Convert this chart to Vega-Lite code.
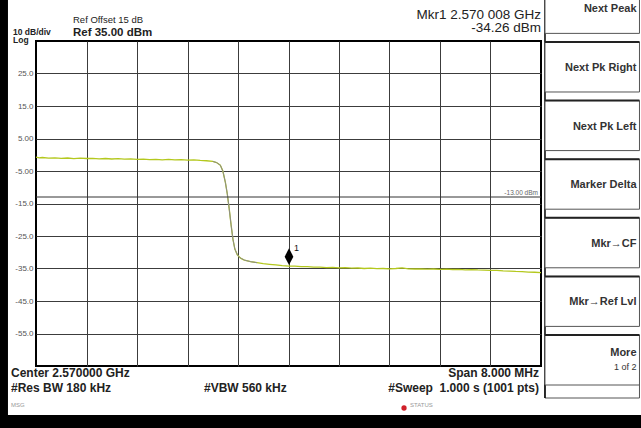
{
  "$schema": "https://vega.github.io/schema/vega-lite/v6.json",
  "width": 505,
  "height": 325,
  "autosize": {"type": "none"},
  "padding": {"left": 36, "top": 41, "right": 100, "bottom": 62},
  "background": "#ffffff",
  "config": {
    "font": "Liberation Sans",
    "view": {"stroke": "#000000", "strokeWidth": 2}
  },
  "datasets": {
    "trace": [
      {"f": 2566.00, "level": -0.75}, {"f": 2566.05, "level": -0.95}, {"f": 2566.10, "level": -0.85},
      {"f": 2566.20, "level": -1.05}, {"f": 2566.30, "level": -0.95}, {"f": 2566.40, "level": -1.10},
      {"f": 2566.50, "level": -1.00}, {"f": 2566.60, "level": -1.20}, {"f": 2566.70, "level": -1.05},
      {"f": 2566.80, "level": -1.15}, {"f": 2566.90, "level": -1.10}, {"f": 2567.00, "level": -1.25},
      {"f": 2567.10, "level": -1.15}, {"f": 2567.20, "level": -1.30}, {"f": 2567.30, "level": -1.20},
      {"f": 2567.40, "level": -1.35}, {"f": 2567.50, "level": -1.25}, {"f": 2567.60, "level": -1.40},
      {"f": 2567.70, "level": -1.35}, {"f": 2567.80, "level": -1.50}, {"f": 2567.90, "level": -1.40},
      {"f": 2568.00, "level": -1.55}, {"f": 2568.10, "level": -1.45}, {"f": 2568.20, "level": -1.60},
      {"f": 2568.30, "level": -1.50}, {"f": 2568.40, "level": -1.65}, {"f": 2568.50, "level": -1.60},
      {"f": 2568.60, "level": -1.75}, {"f": 2568.70, "level": -1.85}, {"f": 2568.80, "level": -2.05},
      {"f": 2568.86, "level": -2.40}, {"f": 2568.92, "level": -3.20}, {"f": 2568.96, "level": -5.00},
      {"f": 2569.00, "level": -8.50}, {"f": 2569.03, "level": -12.0}, {"f": 2569.06, "level": -16.5},
      {"f": 2569.09, "level": -21.5}, {"f": 2569.12, "level": -26.0}, {"f": 2569.15, "level": -29.0},
      {"f": 2569.19, "level": -30.8}, {"f": 2569.24, "level": -31.8}, {"f": 2569.30, "level": -32.4},
      {"f": 2569.40, "level": -32.9}, {"f": 2569.50, "level": -33.2}, {"f": 2569.60, "level": -33.5},
      {"f": 2569.70, "level": -33.7}, {"f": 2569.80, "level": -33.9}, {"f": 2569.90, "level": -34.1},
      {"f": 2570.008, "level": -34.26}, {"f": 2570.10, "level": -34.30}, {"f": 2570.20, "level": -34.45},
      {"f": 2570.30, "level": -34.40}, {"f": 2570.40, "level": -34.60}, {"f": 2570.50, "level": -34.55},
      {"f": 2570.60, "level": -34.70}, {"f": 2570.70, "level": -34.65}, {"f": 2570.80, "level": -34.80},
      {"f": 2570.90, "level": -34.75}, {"f": 2571.00, "level": -34.90}, {"f": 2571.10, "level": -34.85},
      {"f": 2571.20, "level": -35.00}, {"f": 2571.30, "level": -34.90}, {"f": 2571.40, "level": -35.05},
      {"f": 2571.50, "level": -35.00}, {"f": 2571.60, "level": -35.10}, {"f": 2571.70, "level": -35.00},
      {"f": 2571.80, "level": -34.80}, {"f": 2571.90, "level": -35.10}, {"f": 2572.00, "level": -35.15},
      {"f": 2572.10, "level": -35.10}, {"f": 2572.20, "level": -35.20}, {"f": 2572.30, "level": -35.15},
      {"f": 2572.40, "level": -35.25}, {"f": 2572.50, "level": -35.20}, {"f": 2572.60, "level": -35.30},
      {"f": 2572.70, "level": -35.25}, {"f": 2572.80, "level": -35.40}, {"f": 2572.90, "level": -35.35},
      {"f": 2573.00, "level": -35.45}, {"f": 2573.10, "level": -35.50}, {"f": 2573.20, "level": -35.60},
      {"f": 2573.30, "level": -35.60}, {"f": 2573.40, "level": -35.75}, {"f": 2573.50, "level": -35.80},
      {"f": 2573.60, "level": -35.90}, {"f": 2573.70, "level": -35.95}, {"f": 2573.80, "level": -36.10},
      {"f": 2573.90, "level": -36.15}, {"f": 2574.00, "level": -36.30}
    ],
    "marker": [{"f": 2570.008, "level": -34.26, "label": "1"}],
    "dline": [{"level": -13, "label": "-13.00 dBm"}],
    "keys": [
      {"key": "Next Peak"},
      {"key": "Next Pk Right"},
      {"key": "Next Pk Left"},
      {"key": "Marker Delta"},
      {"key": "Mkr→CF"},
      {"key": "Mkr→Ref Lvl"},
      {"key": "More", "sub": "1 of 2"}
    ]
  },
  "resolve": {"scale": {"y": "independent"}},
  "layer": [
    {
      "layer": [
        {
          "data": {"name": "trace"},
          "mark": {"type": "line", "color": "#b4c81e", "strokeWidth": 1.3},
          "encoding": {
            "x": {
              "field": "f", "type": "quantitative", "title": null,
              "scale": {"domain": [2566, 2574], "nice": false, "zero": false},
              "axis": {
                "values": [2566.8, 2567.6, 2568.4, 2569.2, 2570.0, 2570.8, 2571.6, 2572.4, 2573.2],
                "labels": false, "ticks": false, "domain": false, "grid": true,
                "gridColor": "#3c3c3c", "gridWidth": 1, "gridOpacity": 1, "title": null
              }
            },
            "y": {
              "field": "level", "type": "quantitative", "title": null,
              "scale": {"domain": [-65, 35], "nice": false, "zero": false},
              "axis": {
                "values": [25, 15, 5, -5, -15, -25, -35, -45, -55],
                "labelExpr": "(datum.value < 0 ? '-' : '') + (abs(datum.value) >= 10 ? format(abs(datum.value), '.1f') : format(abs(datum.value), '.2f'))",
                "ticks": false, "domain": false, "grid": true,
                "gridColor": "#3c3c3c", "gridWidth": 1, "gridOpacity": 1,
                "labelFontSize": 8, "labelColor": "#555555", "labelPadding": 3, "title": null
              }
            }
          }
        },
        {
          "data": {"name": "trace"},
          "transform": [{"filter": "datum.f >= 2568.78 && datum.f <= 2569.5"}],
          "mark": {"type": "line", "color": "#8c8c8c", "strokeWidth": 1},
          "encoding": {
            "x": {"field": "f", "type": "quantitative", "title": null, "scale": {"domain": [2566, 2574], "nice": false, "zero": false}},
            "y": {"field": "level", "type": "quantitative", "title": null, "scale": {"domain": [-65, 35], "nice": false, "zero": false}}
          }
        },
        {
          "data": {"name": "dline"},
          "mark": {"type": "rule", "color": "#333333", "strokeWidth": 1},
          "encoding": {
            "y": {"field": "level", "type": "quantitative", "title": null, "scale": {"domain": [-65, 35], "nice": false, "zero": false}}
          }
        },
        {
          "data": {"name": "dline"},
          "mark": {"type": "text", "align": "right", "baseline": "bottom", "dy": -1, "fontSize": 6.5, "color": "#666666"},
          "encoding": {
            "x": {"datum": 2573.952, "type": "quantitative", "title": null, "scale": {"domain": [2566, 2574], "nice": false, "zero": false}},
            "y": {"field": "level", "type": "quantitative", "title": null, "scale": {"domain": [-65, 35], "nice": false, "zero": false}},
            "text": {"field": "label"}
          }
        },
        {
          "data": {"name": "marker"},
          "mark": {"type": "point", "shape": "M0,-1L0.52,0L0,1L-0.52,0Z", "size": 280, "filled": true, "color": "#000000", "opacity": 1, "yOffset": -9.4},
          "encoding": {
            "x": {"field": "f", "type": "quantitative", "title": null, "scale": {"domain": [2566, 2574], "nice": false, "zero": false}},
            "y": {"field": "level", "type": "quantitative", "title": null, "scale": {"domain": [-65, 35], "nice": false, "zero": false}}
          }
        },
        {
          "data": {"name": "marker"},
          "mark": {"type": "text", "align": "left", "baseline": "alphabetic", "dx": 5, "dy": -15, "fontSize": 9, "color": "#111111"},
          "encoding": {
            "x": {"field": "f", "type": "quantitative", "title": null, "scale": {"domain": [2566, 2574], "nice": false, "zero": false}},
            "y": {"field": "level", "type": "quantitative", "title": null, "scale": {"domain": [-65, 35], "nice": false, "zero": false}},
            "text": {"field": "label"}
          }
        },
        {
          "data": {"values": [{"t": "10 dB/div\nLog"}]},
          "mark": {"type": "text", "align": "left", "baseline": "alphabetic", "fontSize": 8.5, "fontWeight": "bold", "color": "#222222", "lineBreak": "\n", "lineHeight": 8.5},
          "encoding": {
            "x": {"datum": 2565.636, "type": "quantitative", "title": null, "scale": {"domain": [2566, 2574], "nice": false, "zero": false}},
            "y": {"datum": 36.85, "type": "quantitative", "title": null, "scale": {"domain": [-65, 35], "nice": false, "zero": false}},
            "text": {"field": "t"}
          }
        },
        {
          "data": {"values": [{"t": "Ref Offset 15 dB"}]},
          "mark": {"type": "text", "align": "left", "baseline": "alphabetic", "fontSize": 9.5, "color": "#222222"},
          "encoding": {
            "x": {"datum": 2566.586, "type": "quantitative", "title": null, "scale": {"domain": [2566, 2574], "nice": false, "zero": false}},
            "y": {"datum": 40.54, "type": "quantitative", "title": null, "scale": {"domain": [-65, 35], "nice": false, "zero": false}},
            "text": {"field": "t"}
          }
        },
        {
          "data": {"values": [{"t": "Ref 35.00 dBm"}]},
          "mark": {"type": "text", "align": "left", "baseline": "alphabetic", "fontSize": 11.5, "fontWeight": "bold", "color": "#222222"},
          "encoding": {
            "x": {"datum": 2566.586, "type": "quantitative", "title": null, "scale": {"domain": [2566, 2574], "nice": false, "zero": false}},
            "y": {"datum": 36.66, "type": "quantitative", "title": null, "scale": {"domain": [-65, 35], "nice": false, "zero": false}},
            "text": {"field": "t"}
          }
        },
        {
          "data": {"values": [{"t": "Mkr1 2.570 008 GHz\n-34.26 dBm"}]},
          "mark": {"type": "text", "align": "right", "baseline": "alphabetic", "fontSize": 13.5, "color": "#222222", "lineBreak": "\n", "lineHeight": 13.5},
          "encoding": {
            "x": {"datum": 2574.0, "type": "quantitative", "title": null, "scale": {"domain": [2566, 2574], "nice": false, "zero": false}},
            "y": {"datum": 41.77, "type": "quantitative", "title": null, "scale": {"domain": [-65, 35], "nice": false, "zero": false}},
            "text": {"field": "t"}
          }
        },
        {
          "data": {"values": [{"t": "Center 2.570000 GHz\n#Res BW 180 kHz"}]},
          "mark": {"type": "text", "align": "left", "baseline": "alphabetic", "fontSize": 12, "fontWeight": "bold", "color": "#222222", "lineBreak": "\n", "lineHeight": 15},
          "encoding": {
            "x": {"datum": 2565.604, "type": "quantitative", "title": null, "scale": {"domain": [2566, 2574], "nice": false, "zero": false}},
            "y": {"datum": -68.38, "type": "quantitative", "title": null, "scale": {"domain": [-65, 35], "nice": false, "zero": false}},
            "text": {"field": "t"}
          }
        },
        {
          "data": {"values": [{"t": "#VBW 560 kHz"}]},
          "mark": {"type": "text", "align": "left", "baseline": "alphabetic", "fontSize": 12, "fontWeight": "bold", "color": "#222222"},
          "encoding": {
            "x": {"datum": 2568.661, "type": "quantitative", "title": null, "scale": {"domain": [2566, 2574], "nice": false, "zero": false}},
            "y": {"datum": -73.0, "type": "quantitative", "title": null, "scale": {"domain": [-65, 35], "nice": false, "zero": false}},
            "text": {"field": "t"}
          }
        },
        {
          "data": {"values": [{"t": "Span 8.000 MHz\n#Sweep\u00a0 1.000 s (1001 pts)"}]},
          "mark": {"type": "text", "align": "right", "baseline": "alphabetic", "fontSize": 12, "fontWeight": "bold", "color": "#222222", "lineBreak": "\n", "lineHeight": 15},
          "encoding": {
            "x": {"datum": 2573.968, "type": "quantitative", "title": null, "scale": {"domain": [2566, 2574], "nice": false, "zero": false}},
            "y": {"datum": -68.38, "type": "quantitative", "title": null, "scale": {"domain": [-65, 35], "nice": false, "zero": false}},
            "text": {"field": "t"}
          }
        },
        {
          "data": {"values": [{"t": "MSG"}]},
          "mark": {"type": "text", "align": "left", "baseline": "alphabetic", "fontSize": 6, "color": "#999999"},
          "encoding": {
            "x": {"datum": 2565.604, "type": "quantitative", "title": null, "scale": {"domain": [2566, 2574], "nice": false, "zero": false}},
            "y": {"datum": -77.62, "type": "quantitative", "title": null, "scale": {"domain": [-65, 35], "nice": false, "zero": false}},
            "text": {"field": "t"}
          }
        },
        {
          "data": {"values": [{"t": "STATUS"}]},
          "mark": {"type": "text", "align": "left", "baseline": "alphabetic", "fontSize": 6, "color": "#999999"},
          "encoding": {
            "x": {"datum": 2571.925, "type": "quantitative", "title": null, "scale": {"domain": [2566, 2574], "nice": false, "zero": false}},
            "y": {"datum": -77.62, "type": "quantitative", "title": null, "scale": {"domain": [-65, 35], "nice": false, "zero": false}},
            "text": {"field": "t"}
          }
        },
        {
          "data": {"values": [{"t": "status"}]},
          "mark": {"type": "point", "filled": true, "color": "#d0202a", "opacity": 1, "size": 28},
          "encoding": {
            "x": {"datum": 2571.83, "type": "quantitative", "title": null, "scale": {"domain": [2566, 2574], "nice": false, "zero": false}},
            "y": {"datum": -77.92, "type": "quantitative", "title": null, "scale": {"domain": [-65, 35], "nice": false, "zero": false}}
          }
        },
        {
          "data": {"values": [{"t": "box"}]},
          "mark": {"type": "rect", "fill": "#ffffff", "stroke": "#555555", "strokeWidth": 1},
          "encoding": {
            "x": {"datum": 2574.063, "type": "quantitative", "title": null, "scale": {"domain": [2566, 2574], "nice": false, "zero": false}},
            "x2": {"datum": 2575.56},
            "y": {"datum": -70.54, "type": "quantitative", "title": null, "scale": {"domain": [-65, 35], "nice": false, "zero": false}},
            "y2": {"datum": -74.85}
          }
        },
        {
          "data": {"values": [{"t": "edge"}]},
          "mark": {"type": "rule", "color": "#000000", "strokeWidth": 1.5},
          "encoding": {
            "x": {"datum": 2574.063, "type": "quantitative", "title": null, "scale": {"domain": [2566, 2574], "nice": false, "zero": false}},
            "y": {"datum": 50, "type": "quantitative", "title": null, "scale": {"domain": [-65, 35], "nice": false, "zero": false}},
            "y2": {"datum": -74.85}
          }
        },
        {
          "data": {"values": [{"t": "left"}]},
          "mark": {"type": "rect", "fill": "#000000"},
          "encoding": {
            "x": {"datum": 2565.0, "type": "quantitative", "title": null, "scale": {"domain": [2566, 2574], "nice": false, "zero": false}},
            "x2": {"datum": 2565.556},
            "y": {"datum": 50, "type": "quantitative", "title": null, "scale": {"domain": [-65, 35], "nice": false, "zero": false}},
            "y2": {"datum": -90}
          }
        },
        {
          "data": {"values": [{"t": "bottom"}]},
          "mark": {"type": "rect", "fill": "#000000"},
          "encoding": {
            "x": {"datum": 2565.0, "type": "quantitative", "title": null, "scale": {"domain": [2566, 2574], "nice": false, "zero": false}},
            "x2": {"datum": 2576.0},
            "y": {"datum": -80.08, "type": "quantitative", "title": null, "scale": {"domain": [-65, 35], "nice": false, "zero": false}},
            "y2": {"datum": -90}
          }
        }
      ]
    },
    {
      "data": {"name": "keys"},
      "layer": [
        {
          "mark": {"type": "rect", "fill": "#ffffff", "stroke": "#555555", "strokeWidth": 1},
          "encoding": {
            "x": {"datum": 2574.063, "type": "quantitative", "title": null, "scale": {"domain": [2566, 2574], "nice": false, "zero": false}},
            "x2": {"datum": 2575.56},
            "y": {"field": "key", "type": "nominal", "sort": null, "title": null, "axis": null,
                  "scale": {"type": "band", "range": [-57.6, 344], "paddingInner": 0.147, "paddingOuter": 0}}
          }
        },
        {
          "mark": {"type": "rule", "color": "#222222", "strokeWidth": 2},
          "encoding": {
            "x": {"datum": 2574.063, "type": "quantitative", "title": null, "scale": {"domain": [2566, 2574], "nice": false, "zero": false}},
            "x2": {"datum": 2575.56},
            "y": {"field": "key", "type": "nominal", "sort": null, "title": null, "axis": null, "bandPosition": 0,
                  "scale": {"type": "band", "range": [-57.6, 344], "paddingInner": 0.147, "paddingOuter": 0}}
          }
        },
        {
          "transform": [{"filter": "datum.key != 'More'"}],
          "mark": {"type": "text", "align": "right", "baseline": "middle", "dy": 1, "fontSize": 11, "fontWeight": "bold", "color": "#333333"},
          "encoding": {
            "x": {"datum": 2575.513, "type": "quantitative", "title": null, "scale": {"domain": [2566, 2574], "nice": false, "zero": false}},
            "y": {"field": "key", "type": "nominal", "sort": null, "title": null, "axis": null,
                  "scale": {"type": "band", "range": [-57.6, 344], "paddingInner": 0.147, "paddingOuter": 0}},
            "text": {"field": "key"}
          }
        },
        {
          "transform": [{"filter": "datum.key == 'More'"}],
          "mark": {"type": "text", "align": "right", "baseline": "middle", "dy": -7, "fontSize": 11, "fontWeight": "bold", "color": "#333333"},
          "encoding": {
            "x": {"datum": 2575.513, "type": "quantitative", "title": null, "scale": {"domain": [2566, 2574], "nice": false, "zero": false}},
            "y": {"field": "key", "type": "nominal", "sort": null, "title": null, "axis": null,
                  "scale": {"type": "band", "range": [-57.6, 344], "paddingInner": 0.147, "paddingOuter": 0}},
            "text": {"field": "key"}
          }
        },
        {
          "transform": [{"filter": "datum.sub"}],
          "mark": {"type": "text", "align": "right", "baseline": "middle", "dy": 7, "fontSize": 9, "color": "#333333"},
          "encoding": {
            "x": {"datum": 2575.513, "type": "quantitative", "title": null, "scale": {"domain": [2566, 2574], "nice": false, "zero": false}},
            "y": {"field": "key", "type": "nominal", "sort": null, "title": null, "axis": null,
                  "scale": {"type": "band", "range": [-57.6, 344], "paddingInner": 0.147, "paddingOuter": 0}},
            "text": {"field": "sub"}
          }
        }
      ]
    }
  ]
}
